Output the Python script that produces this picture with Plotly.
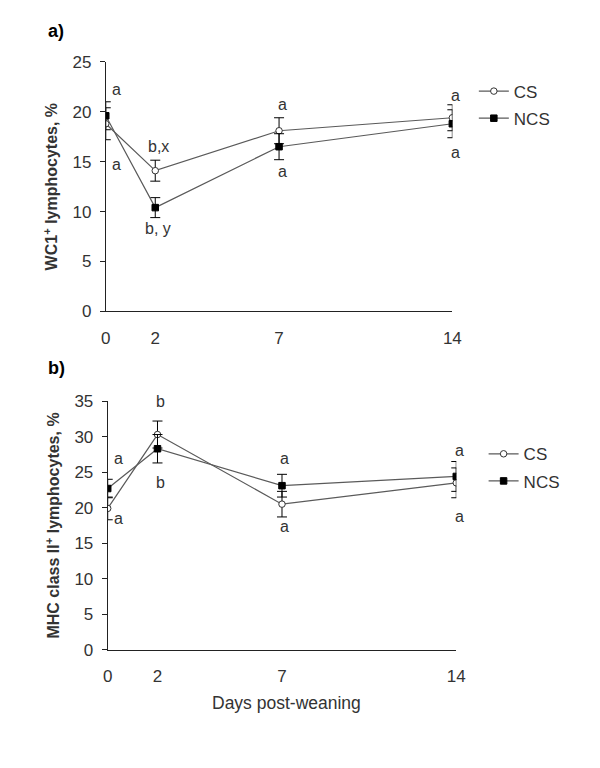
import plotly.graph_objects as go

# ---- data ----
days = [0, 2, 7, 14]
day_labels = ["0", "2", "7", "14"]

wc1_cs = [18.8, 14.1, 18.1, 19.4]
wc1_cs_err = [1.6, 1.05, 1.3, 1.3]
wc1_ncs = [19.6, 10.4, 16.5, 18.8]
wc1_ncs_err = [1.4, 1.0, 1.3, 1.4]

mhc_cs = [19.9, 30.3, 20.5, 23.5]
mhc_cs_err = [1.6, 1.9, 1.8, 2.1]
mhc_ncs = [22.7, 28.3, 23.1, 24.4]
mhc_ncs_err = [1.3, 2.0, 1.6, 2.1]

# significance letters: (day, y-value, text)
letters_a = [(0, 22.2, "a"), (0, 14.7, "a"), (2, 16.5, "b,x"), (2, 8.3, "b, y"),
             (7, 20.7, "a"), (7, 14.0, "a"), (14, 21.6, "a"), (14, 15.9, "a")]
letters_b = [(0, 26.9, "a"), (0, 18.5, "a"), (2, 35.0, "b"), (2, 23.5, "b"),
             (7, 26.9, "a"), (7, 17.3, "a"), (14, 28.0, "a"), (14, 18.7, "a")]

FONT = "Liberation Sans, Arial, sans-serif"
TXT = "#333333"
LINE = "#5a5a5a"

OFF = 8  # page body margin
W, H = 600 - OFF, 768 - OFF

def px_x(p):
    return (p - OFF) / W

def px_y(p):
    return 1 - (p - OFF) / H

fig = go.Figure()

def add_series(y, err, name, xa, ya, legend, filled):
    if filled:
        marker = dict(symbol="square", size=6.5, color="black", line=dict(color="black", width=1))
    else:
        marker = dict(symbol="circle", size=6.5, color="white", line=dict(color="#333333", width=1))
    fig.add_trace(go.Scatter(
        x=days, y=y, name=name, mode="lines+markers",
        line=dict(color=LINE, width=1.2),
        marker=marker,
        error_y=dict(type="data", array=err, visible=True, color="black", thickness=1, width=5),
        xaxis=xa, yaxis=ya, legend=legend, showlegend=True, legendgroup=name + legend,
    ))

add_series(wc1_cs, wc1_cs_err, "CS", "x", "y", "legend", False)
add_series(wc1_ncs, wc1_ncs_err, "NCS", "x", "y", "legend", True)
add_series(mhc_cs, mhc_cs_err, "CS", "x2", "y2", "legend2", False)
add_series(mhc_ncs, mhc_ncs_err, "NCS", "x2", "y2", "legend2", True)

annotations = []
for (xref, yref, letters) in (("x", "y", letters_a), ("x2", "y2", letters_b)):
    for d, v, t in letters:
        annotations.append(dict(x=d, y=v, xref=xref, yref=yref, text=t, showarrow=False,
                                xshift=11 if d == 0 else 3,
                                font=dict(family=FONT, size=16, color=TXT)))

annotations.append(dict(x=px_x(42), y=px_y(22), xref="paper", yref="paper", text="<b>a)</b>",
                        showarrow=False, xanchor="left", yanchor="middle",
                        font=dict(family=FONT, size=18, color="black")))
annotations.append(dict(x=px_x(42), y=px_y(368), xref="paper", yref="paper", text="<b>b)</b>",
                        showarrow=False, xanchor="left", yanchor="middle",
                        font=dict(family=FONT, size=18, color="black")))
annotations.append(dict(x=px_x(288), y=px_y(712), xref="paper", yref="paper", text="Days post-weaning",
                        showarrow=False, xanchor="center", yanchor="middle",
                        font=dict(family=FONT, size=17.5, color=TXT)))

xaxis_common = dict(range=[0, 14], tickvals=days, ticktext=day_labels, ticks="",
                    showline=True, linecolor="#222222", linewidth=1, showgrid=False, zeroline=False,
                    tickfont=dict(family=FONT, size=17, color=TXT), ticklabelstandoff=11)
yaxis_common = dict(showline=True, linecolor="#222222", linewidth=1, showgrid=False, zeroline=False,
                    ticks="outside", ticklen=5, tickcolor="#222222", dtick=5,
                    tickfont=dict(family=FONT, size=17, color=TXT), ticklabelstandoff=5)

fig.update_layout(
    width=W, height=H,
    margin=dict(l=0, r=0, t=0, b=0),
    paper_bgcolor="white", plot_bgcolor="white",
    font=dict(family=FONT, color=TXT),
    xaxis=dict(domain=[px_x(103), px_x(458)], anchor="y", **xaxis_common),
    yaxis=dict(domain=[px_y(310), px_y(54)], anchor="x", range=[0, 25],
               title=dict(text="<b>WC1<sup>+</sup> lymphocytes, %</b>", standoff=10,
                          font=dict(family=FONT, size=16, color=TXT)), **yaxis_common),
    xaxis2=dict(domain=[px_x(105), px_x(462)], anchor="y2", **xaxis_common),
    yaxis2=dict(domain=[px_y(657), px_y(402)], anchor="x2", range=[0, 35],
                title=dict(text="<b>MHC class II<sup>+</sup> lymphocytes, %</b>", standoff=10,
                           font=dict(family=FONT, size=16, color=TXT)), **yaxis_common),
    legend=dict(x=px_x(480), y=px_y(66), xanchor="left", yanchor="top", bgcolor="rgba(0,0,0,0)",
                font=dict(family=FONT, size=17, color=TXT), tracegroupgap=2, borderwidth=0),
    legend2=dict(x=px_x(490), y=px_y(438), xanchor="left", yanchor="top", bgcolor="rgba(0,0,0,0)",
                 font=dict(family=FONT, size=17, color=TXT), tracegroupgap=2, borderwidth=0),
    annotations=annotations,
)

fig.write_html("out.html")
